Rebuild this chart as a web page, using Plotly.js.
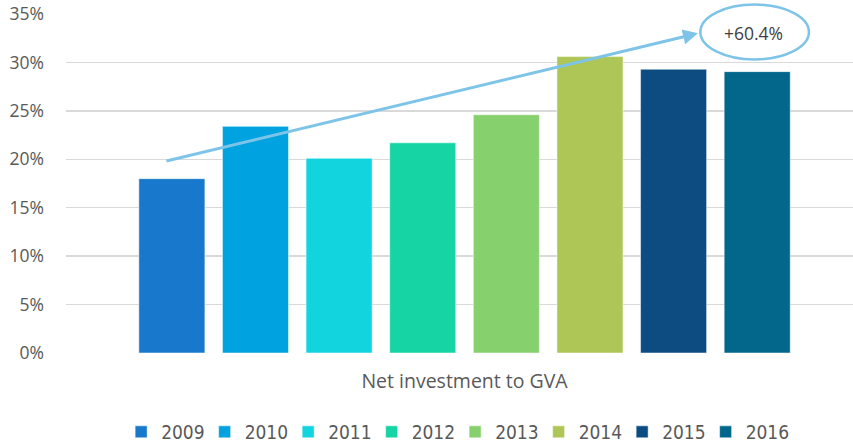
<!DOCTYPE html>
<html>
<head>
<meta charset="utf-8">
<script src="https://cdn.plot.ly/plotly-3.0.1.min.js"></script>
<style>html,body{margin:0;padding:0;background:#fff;}#chart{width:853px;height:447px;}</style>
</head>
<body>
<div id="chart"></div>
<script>
const category = "Net investment to GVA";
const years = ["2009","2010","2011","2012","2013","2014","2015","2016"];
const values = [18.0, 23.4, 20.1, 21.7, 24.6, 30.6, 29.3, 29.05];
const colors = ["#1778CC","#00A3E0","#12D4DF","#16D4A4","#87D06E","#AEC655","#0D4C80","#02678A"];
const tickVals = [0,5,10,15,20,25,30,35];
const tickText = ["0%","5%","10%","15%","20%","25%","30%","35%"];
const changeLabel = "+60.4%";

const font = "'Open Sans', Lato, sans-serif";
const legendFont = "'DejaVu Sans Condensed', sans-serif";
const traces = years.map((y,i)=>({
  type:"bar", name:y, x:[category], y:[values[i]],
  marker:{color:colors[i], line:{color:"rgba(255,255,255,0.5)", width:1}},
  hoverinfo:"skip"
}));

const layout = {
  width:853, height:447,
  margin:{l:66, r:0, t:13.5, b:93.5, autoexpand:false},
  paper_bgcolor:"#fff", plot_bgcolor:"#fff",
  barmode:"group", bargap:0.15, bargroupgap:0.21,
  font:{family:font, color:"#595959", size:16},
  xaxis:{type:"category", range:[-0.5064,0.4936], showgrid:false, zeroline:false,
    showline:false, ticks:"", ticklabelstandoff:14, automargin:false,
    tickfont:{size:19.5,color:"#595959"}},
  yaxis:{range:[0,35], tickvals:tickVals, ticktext:tickText, showgrid:true,
    gridcolor:"#D9D9D9", gridwidth:1.5, zeroline:false, showline:false, ticks:"",
    ticklabelstandoff:21, automargin:false, tickfont:{size:17.5,color:"#595959"}},
  showlegend:true,
  legend:{orientation:"h", xref:"container", yref:"container", x:0.142, xanchor:"left",
    y:0.0336, yanchor:"middle", font:{size:19,color:"#595959", family:legendFont},
    entrywidth:38.5, itemwidth:30, traceorder:"normal"},
  shapes:[{type:"circle", xref:"paper", yref:"paper", x0:0.806, x1:0.944, y0:0.866, y1:1.028,
    line:{color:"#7DC4E8", width:2.5}, fillcolor:"#fff", layer:"above"}],
  annotations:[
    {xref:"paper", yref:"y", x:0.803, y:33.0, axref:"pixel", ayref:"pixel", ax:-533, ay:128,
     showarrow:true, arrowhead:2, arrowsize:1, arrowwidth:3, arrowcolor:"#7DC4E8", text:""},
    {xref:"paper", yref:"paper", x:0.873, y:0.943, xanchor:"center", yanchor:"middle",
     text:changeLabel, showarrow:false, font:{size:17.5,color:"#404040", family:font}}
  ]
};
Plotly.newPlot("chart", traces, layout, {displayModeBar:false, staticPlot:true});
</script>
</body>
</html>
